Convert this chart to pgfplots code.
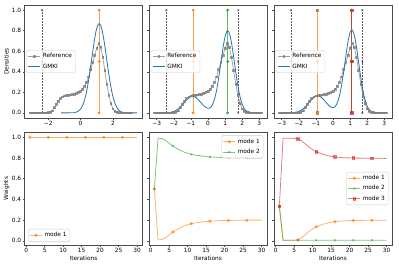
\documentclass[border=0pt]{standalone}
\usepackage{fontspec}
\setmainfont{DejaVu Sans}
\usepackage{pgfplots}
\pgfplotsset{compat=1.18}
\definecolor{tabblue}{HTML}{1F77B4}
\definecolor{taborange}{HTML}{FF7F0E}
\definecolor{tabgreen}{HTML}{2CA02C}
\definecolor{tabred}{HTML}{D62728}
\definecolor{tabgray}{HTML}{7F7F7F}
\newcommand{\fs}{\fontsize{5.8}{6.5}\selectfont}
\pgfplotsset{
  base/.style={scale only axis, width=118pt, height=113pt, anchor=north west,
    axis line style={black!70, line width=0.5pt},
    tick style={black!70, line width=0.4pt},
    tick align=outside, major tick length=2pt, tick pos=left,
    font=\fs, ticklabel style={font=\fs, inner sep=1.2pt}, label style={font=\fs},
    y label style={at={(axis description cs:-0.152,0.5)}, anchor=center},
    x label style={at={(axis description cs:0.5,-0.118)}, anchor=center},
    /pgf/number format/assume math mode=true,
    legend cell align=left,
    legend style={font=\fs, draw=black!20, fill=white, fill opacity=0.8, text opacity=1,
      rounded corners=1.5pt, inner xsep=1.5pt, inner ysep=1.2pt, row sep=0.3pt},
    legend image code/.code={\draw[mark repeat=2,mark phase=2,##1] plot coordinates {(0pt,0pt) (6pt,0pt) (12pt,0pt)};},
  },
  denaxis/.style={base, ymin=-0.05, ymax=1.05, ytick={0,0.2,0.4,0.6,0.8,1.0},
    yticklabel style={/pgf/number format/fixed, /pgf/number format/fixed zerofill, /pgf/number format/precision=1},
    legend style={at={(0.015,0.5)}, anchor=west}},
  wtaxis/.style={base, ymin=-0.04, ymax=1.05, ytick={0,0.2,0.4,0.6,0.8,1.0},
    xmin=-0.45, xmax=31.45, xtick={0,5,10,15,20,25,30}, xlabel={Iterations},
    yticklabel style={/pgf/number format/fixed, /pgf/number format/fixed zerofill, /pgf/number format/precision=1}},
  refline/.style={tabgray, opacity=0.75, line width=0.7pt, mark=square*, mark size=0.9pt, mark options={fill=tabgray}},
  gmki/.style={tabblue, line width=0.8pt, no marks},
  kline/.style={black!80, opacity=0.8, densely dotted, line width=0.5pt, mark=x, mark size=1.1pt, mark options={solid}, forget plot},
  vline/.style={#1, opacity=0.75, line width=0.8pt, mark=*, mark size=1.1pt, forget plot},
  wline/.style={#1, opacity=0.6, line width=0.8pt, mark repeat=5, mark phase=1, mark size=1.2pt},
}
\pgfplotstableread{
x v
-3.125 0
-3.0 0
-2.875 0
-2.75 0
-2.625 0
-2.5 0
-2.375 0
-2.25 0
-2.125 0.001
-2.0 0.002
-1.875 0.006
-1.75 0.02
-1.625 0.05
-1.5 0.085
-1.375 0.115
-1.25 0.14
-1.125 0.155
-1.0 0.165
-0.875 0.17
-0.75 0.172
-0.625 0.175
-0.5 0.178
-0.375 0.183
-0.25 0.19
-0.125 0.2
0.0 0.21
0.125 0.23
0.25 0.26
0.375 0.3
0.5 0.35
0.625 0.42
0.75 0.49
0.875 0.56
1.0 0.63
1.125 0.675
1.25 0.64
1.375 0.54
1.5 0.41
1.625 0.28
1.75 0.17
1.875 0.09
2.0 0.04
2.125 0.015
2.25 0.005
2.375 0.002
2.5 0
2.625 0
2.75 0
2.875 0
3.0 0
3.125 0
}\reftab
\pgfplotstableread{
x v
-1.2 0
-0.8 0
-0.4 0.001
-0.25 0.0085
-0.15 0.016
-0.05 0.029
0.05 0.05
0.15 0.082
0.25 0.128
0.35 0.192
0.45 0.273
0.55 0.371
0.65 0.482
0.75 0.596
0.85 0.703
0.95 0.792
1.05 0.85
1.15 0.87
1.25 0.85
1.35 0.792
1.45 0.703
1.55 0.596
1.65 0.482
1.75 0.371
1.85 0.273
1.95 0.192
2.05 0.128
2.15 0.082
2.25 0.05
2.35 0.029
2.45 0.016
2.55 0.0085
2.7 0.001
3.1 0
3.5 0
}\gone
\pgfplotstableread{
x v
-3.14 0
-2.8 0
-2.7 0.0002
-2.6 0.0005
-2.5 0.001
-2.4 0.0018
-2.3 0.0032
-2.2 0.0054
-2.1 0.009
-2.0 0.0142
-1.9 0.0217
-1.8 0.0317
-1.7 0.0445
-1.6 0.06
-1.5 0.078
-1.4 0.097
-1.3 0.116
-1.2 0.134
-1.1 0.148
-1.0 0.157
-0.9 0.16
-0.8 0.157
-0.7 0.148
-0.6 0.134
-0.5 0.116
-0.4 0.097
-0.3 0.079
-0.2 0.063
-0.1 0.051
0.0 0.0445
0.1 0.047
0.2 0.062
0.3 0.093
0.4 0.143
0.5 0.217
0.6 0.313
0.7 0.426
0.8 0.547
0.9 0.658
1.0 0.746
1.1 0.794
1.15 0.8
1.2 0.794
1.3 0.746
1.4 0.658
1.5 0.546
1.6 0.425
1.7 0.311
1.8 0.214
1.9 0.138
2.0 0.0837
2.1 0.0477
2.2 0.0255
2.3 0.0128
2.4 0.0061
2.5 0.0027
2.6 0.0011
2.7 0.0004
2.9 0
3.14 0
}\gtwo
\pgfplotstableread{
x v
-3.14 0
-2.8 0
-2.7 0.0002
-2.6 0.0005
-2.5 0.001
-2.4 0.0019
-2.3 0.0033
-2.2 0.0056
-2.1 0.0093
-2.0 0.0146
-1.9 0.022
-1.8 0.033
-1.7 0.046
-1.6 0.062
-1.5 0.08
-1.4 0.1
-1.3 0.12
-1.2 0.138
-1.1 0.152
-1.0 0.162
-0.9 0.165
-0.8 0.162
-0.7 0.152
-0.6 0.138
-0.5 0.12
-0.4 0.101
-0.3 0.082
-0.2 0.066
-0.1 0.055
0.0 0.0515
0.1 0.058
0.2 0.079
0.3 0.119
0.4 0.181
0.5 0.266
0.6 0.373
0.7 0.492
0.8 0.612
0.9 0.715
1.0 0.785
1.1 0.81
1.2 0.785
1.3 0.715
1.4 0.611
1.5 0.491
1.6 0.371
1.7 0.263
1.8 0.175
1.9 0.11
2.0 0.0645
2.1 0.0356
2.2 0.0185
2.3 0.009
2.4 0.0041
2.5 0.0018
2.6 0.0007
2.7 0.0003
2.9 0
3.14 0
}\gthree
\begin{document}
\begin{tikzpicture}
\useasboundingbox (0,0) rectangle (399pt,-266pt);
% ---- top left
\begin{axis}[denaxis, at={(24.5pt,-5pt)}, xmin=-3.47, xmax=3.83,
  xtick={-2,0,2}, xticklabels={−2,0,2}, ylabel={Densities}]
\addplot[kline] coordinates {(-2.4,0) (-2.4,0.5) (-2.4,1)};
\addplot[vline=taborange] coordinates {(1.15,0) (1.15,0.5) (1.15,1)};
\addplot[refline] table[x=x,y=v] {\reftab};
\addlegendentry{Reference}
\addplot[gmki] table[x=x,y=v] {\gone};
\addlegendentry{GMKI}
\end{axis}
% ---- top middle
\begin{axis}[denaxis, at={(149pt,-5pt)}, xmin=-3.45, xmax=3.45,
  xtick={-3,-2,-1,0,1,2,3}, xticklabels={−3,−2,−1,0,1,2,3}, yticklabels={}]
\addplot[kline] coordinates {(-2.43,0) (-2.43,0.5) (-2.43,1)};
\addplot[kline] coordinates {(1.77,0) (1.77,0.5) (1.77,1)};
\addplot[vline=taborange] coordinates {(-0.87,0) (-0.87,0.5) (-0.87,1)};
\addplot[vline=tabgreen] coordinates {(1.15,0) (1.15,0.5) (1.15,1)};
\addplot[refline] table[x=x,y=v] {\reftab};
\addlegendentry{Reference}
\addplot[gmki] table[x=x,y=v] {\gtwo};
\addlegendentry{GMKI}
\end{axis}
% ---- top right
\begin{axis}[denaxis, at={(274pt,-5pt)}, xmin=-3.45, xmax=3.45,
  xtick={-3,-2,-1,0,1,2,3}, xticklabels={−3,−2,−1,0,1,2,3}, yticklabels={}]
\addplot[kline] coordinates {(-2.47,0) (-2.47,0.5) (-2.47,1)};
\addplot[kline] coordinates {(1.72,0) (1.72,0.5) (1.72,1)};
\addplot[vline=taborange, mark=square*, mark options={draw=brown!80!black}] coordinates {(-0.92,0) (-0.92,0.5) (-0.92,1)};
\addplot[vline=tabgreen] coordinates {(1.08,0) (1.08,0.5) (1.08,1)};
\addplot[vline=tabred, mark=square*] coordinates {(1.1,0) (1.1,0.5) (1.1,1)};
\addplot[refline] table[x=x,y=v] {\reftab};
\addlegendentry{Reference}
\addplot[gmki] table[x=x,y=v] {\gthree};
\addlegendentry{GMKI}
\end{axis}
% ---- bottom left
\begin{axis}[wtaxis, at={(24.5pt,-132pt)}, ylabel={Weights},
  legend style={at={(0.03,0.03)}, anchor=south west}]
\addplot[wline=taborange, mark=*] coordinates {(1,1)(2,1)(3,1)(4,1)(5,1)(6,1)(7,1)(8,1)(9,1)(10,1)(11,1)(12,1)(13,1)(14,1)(15,1)(16,1)(17,1)(18,1)(19,1)(20,1)(21,1)(22,1)(23,1)(24,1)(25,1)(26,1)(27,1)(28,1)(29,1)(30,1)};
\addlegendentry{mode 1}
\end{axis}
% ---- bottom middle
\begin{axis}[wtaxis, at={(149pt,-132pt)}, yticklabels={},
  legend style={at={(0.97,0.97)}, anchor=north east}]
\addplot[wline=taborange, mark=*] coordinates {(1,0.5)(2,0.01)(3,0.012)(4,0.03)(5,0.058)(6,0.085)(7,0.108)(8,0.127)(9,0.143)(10,0.156)(11,0.166)(12,0.173)(13,0.178)(14,0.183)(15,0.187)(16,0.19)(17,0.192)(18,0.194)(19,0.195)(20,0.196)(21,0.197)(22,0.198)(23,0.198)(24,0.199)(25,0.199)(26,0.199)(27,0.2)(28,0.2)(29,0.2)(30,0.2)};
\addlegendentry{mode 1}
\addplot[wline=tabgreen, mark=x] coordinates {(1,0.5)(2,0.99)(3,0.988)(4,0.97)(5,0.942)(6,0.915)(7,0.892)(8,0.873)(9,0.857)(10,0.844)(11,0.834)(12,0.827)(13,0.822)(14,0.817)(15,0.813)(16,0.81)(17,0.808)(18,0.806)(19,0.805)(20,0.804)(21,0.803)(22,0.802)(23,0.802)(24,0.801)(25,0.801)(26,0.801)(27,0.8)(28,0.8)(29,0.8)(30,0.8)};
\addlegendentry{mode 2}
\end{axis}
% ---- bottom right
\begin{axis}[wtaxis, at={(274pt,-132pt)}, yticklabels={},
  legend style={at={(0.97,0.5)}, anchor=east}]
\addplot[wline=taborange, mark=*] coordinates {(1,0.333)(2,0.005)(3,0.005)(4,0.005)(5,0.006)(6,0.01)(7,0.03)(8,0.06)(9,0.09)(10,0.115)(11,0.135)(12,0.15)(13,0.162)(14,0.172)(15,0.18)(16,0.185)(17,0.189)(18,0.192)(19,0.194)(20,0.195)(21,0.196)(22,0.197)(23,0.197)(24,0.198)(25,0.198)(26,0.198)(27,0.199)(28,0.199)(29,0.199)(30,0.2)};
\addlegendentry{mode 1}
\addplot[wline=tabgreen, mark=x] coordinates {(1,0.333)(2,0.005)(3,0.005)(4,0.005)(5,0.005)(6,0.005)(7,0.005)(8,0.005)(9,0.005)(10,0.005)(11,0.005)(12,0.005)(13,0.005)(14,0.005)(15,0.005)(16,0.005)(17,0.005)(18,0.005)(19,0.005)(20,0.005)(21,0.005)(22,0.005)(23,0.005)(24,0.005)(25,0.005)(26,0.005)(27,0.005)(28,0.005)(29,0.005)(30,0.005)};
\addlegendentry{mode 2}
\addplot[wline=tabred, mark=square*] coordinates {(1,0.334)(2,0.99)(3,0.99)(4,0.99)(5,0.989)(6,0.985)(7,0.965)(8,0.935)(9,0.905)(10,0.88)(11,0.86)(12,0.845)(13,0.833)(14,0.823)(15,0.815)(16,0.81)(17,0.806)(18,0.803)(19,0.801)(20,0.8)(21,0.799)(22,0.798)(23,0.798)(24,0.797)(25,0.797)(26,0.797)(27,0.796)(28,0.796)(29,0.796)(30,0.795)};
\addlegendentry{mode 3}
\end{axis}
\end{tikzpicture}
\end{document}
